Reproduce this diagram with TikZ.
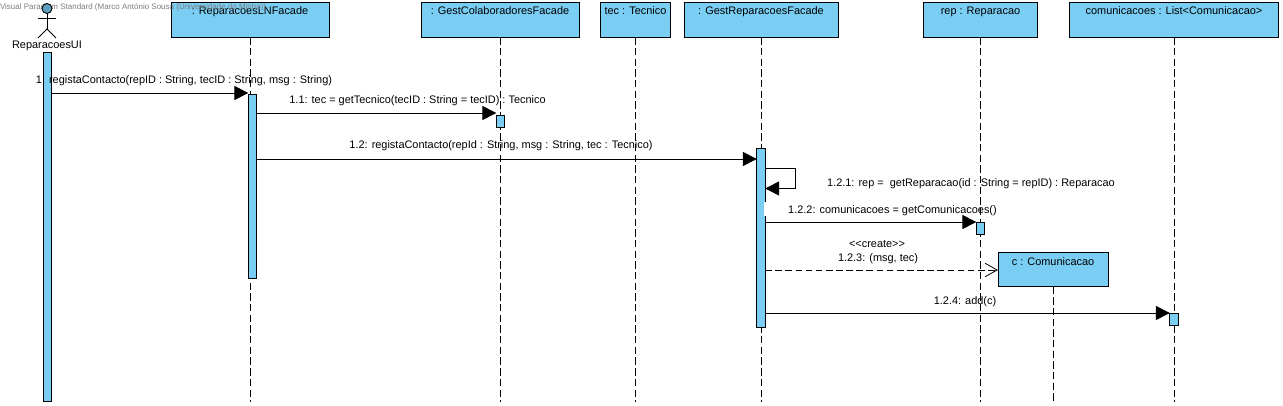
\documentclass[tikz,border=0pt]{standalone}
\usepackage{fontspec}
\setmainfont{Liberation Sans}
\usetikzlibrary{arrows.meta,positioning}
\definecolor{boxblue}{RGB}{122,205,243}
\definecolor{headblue}{RGB}{95,160,190}
\definecolor{markgray}{RGB}{125,125,125}

\begin{document}
\begin{tikzpicture}[
    x=0.75pt, y=-0.75pt, % 1 unit = 1 pixel of the reference
    font=\fontsize{8.2pt}{9.8pt}\selectfont,
    line width=0.7pt,
    outer sep=0pt,
    % --- styles ---
    life box/.style={
        draw=black,
        fill=boxblue,
        anchor=north,
        minimum height=26.25pt,
        inner xsep=0pt,
        inner ysep=2.5pt,
        text height=6pt,
        text depth=14.75pt,
        line width=0.7pt
    },
    life line/.style={
        draw=black,
        line width=0.65pt,
        dash pattern=on 5.5pt off 2.5pt
    },
    act bar/.style={
        draw=black,
        fill=boxblue,
        anchor=north,
        minimum width=6.2pt,
        inner sep=0pt,
        line width=0.7pt
    },
    msg/.style={
        draw=black,
        -{Triangle[length=10.5pt, width=10.5pt]}
    },
    create msg/.style={
        draw=black,
        line width=0.6pt,
        dash pattern=on 5pt off 2.6pt,
        -{Straight Barb[length=9pt, width=10pt, line width=0.6pt]}
    },
    msg label/.style={
        inner sep=0pt
    }
]

    % ====== life lines ======
    \coordinate (lnf end) at (250,402);
    \coordinate (gcf end) at (500,402);
    \coordinate (tec end) at (635.5,402);
    \coordinate (grf end) at (761,402);
    \coordinate (rep end) at (980.5,402);
    \coordinate (com end) at (1174,402);
    \coordinate (c end) at (1053,402);

    \useasboundingbox (0,0) rectangle (1283,406);

    % header boxes
    \node[life box, minimum width=118.5pt] (lnf) at (250,2.5) {: ReparacoesLNFacade};
    \node[life box, minimum width=118.5pt] (gcf) at (500,2.5) {: GestColaboradoresFacade};
    \node[life box, minimum width=53pt] (tec) at (635.5,2.5) {tec : Tecnico};
    \node[life box, minimum width=115.5pt] (grf) at (761,2.5) {: GestReparacoesFacade};
    \node[life box, minimum width=86pt] (rep) at (980.5,2.5) {rep : Reparacao};
    \node[life box, minimum width=156.75pt] (com) at (1174,2.5) {comunicacoes : List<Comunicacao>};
    \node[life box, minimum width=82.5pt, text depth=12.1pt, minimum height=26pt] (c) at (1053,252) {c : Comunicacao};

    \draw[life line] (lnf.south) -- (lnf end);
    \draw[life line] (gcf.south) -- (gcf end);
    \draw[life line] (tec.south) -- (tec end);
    \draw[life line] (grf.south) -- (grf end);
    \draw[life line] (rep.south) -- (rep end);
    \draw[life line] (com.south) -- (com end);
    \draw[life line] (c.south) -- (c end);

    % watermark
    \node[anchor=west, inner sep=0pt, text=markgray, font=\fontsize{6pt}{7pt}\selectfont] (mark) at (0,7) {Visual Paradigm Standard (Marco António Sousa (Universidade do Minho))};

    % actor
    \node[draw=black, fill=headblue, circle, minimum size=7.5pt, inner sep=0pt] (head) at (47,8.5) {};
    \coordinate (hip) at (47,29);
    \coordinate (arm l) at (38,18);
    \coordinate (arm r) at (56,18);
    \coordinate (foot l) at (38,38);
    \coordinate (foot r) at (56,38);
    \draw (head) -- (hip);
    \draw (arm l) -- (arm r);
    \draw (foot l) -- (hip) -- (foot r);
    \node[msg label] (ui) at (47,46) {ReparacoesUI};

    % ====== activation bars ======
    \node[act bar, minimum width=6pt, minimum height=261.75pt] (ui bar) at (47,52.5) {};
    \node[act bar, minimum height=138pt] (lnf bar) at (252.5,94) {};
    \node[act bar, minimum height=9pt] (gcf bar) at (500.5,115) {};
    \node[act bar, minimum height=134.25pt] (grf bar) at (761,148.5) {};
    \node[act bar, minimum height=9pt] (rep bar) at (980.5,222) {};
    \node[act bar, minimum height=9pt] (com bar) at (1174,313) {};

    % white notch on the bar
    \fill[white] (764,202) rectangle (766,216);

    % ====== messages ======
    \draw[msg] (ui bar.east |- 0,93) -- (lnf bar.west |- 0,93);
    \draw[msg] (lnf bar.east |- 0,113) -- (gcf bar.west |- 0,113);
    \draw[msg] (lnf bar.east |- 0,159) -- (grf bar.west |- 0,159);
    \draw[msg] (grf bar.east |- 0,168) -- (795.5,168) -- (795.5,188.5) -- (grf bar.east |- 0,188.5);
    \draw[msg] (grf bar.east |- 0,222) -- (rep bar.west |- 0,222);
    \draw[create msg] (grf bar.east |- 0,270) -- (c.west |- 0,270);
    \draw[msg] (grf bar.east |- 0,313) -- (com bar.west |- 0,313);

    % labels
    \node[msg label] (m1) at (184,81) {1: registaContacto(repID : String, tecID : String, msg : String)};
    \node[msg label] (m11) at (417.5,101) {1.1: tec = getTecnico(tecID : String = tecID) : Tecnico};
    \node[msg label] (m12) at (501,146) {1.2: registaContacto(repId : String, msg : String, tec : Tecnico)};
    \node[msg label] (m121) at (971,184) {1.2.1: rep =\ \ getReparacao(id : String = repID) : Reparacao};
    \node[msg label] (m122) at (892.5,211) {1.2.2: comunicacoes = getComunicacoes()};
    \node[msg label] (stereo) at (877,244) {<{}<create>{}>};
    \node[msg label] (m123) at (878,259) {1.2.3: (msg, tec)};
    \node[msg label] (m124) at (965,302) {1.2.4: add(c)};

\end{tikzpicture}
\end{document}
